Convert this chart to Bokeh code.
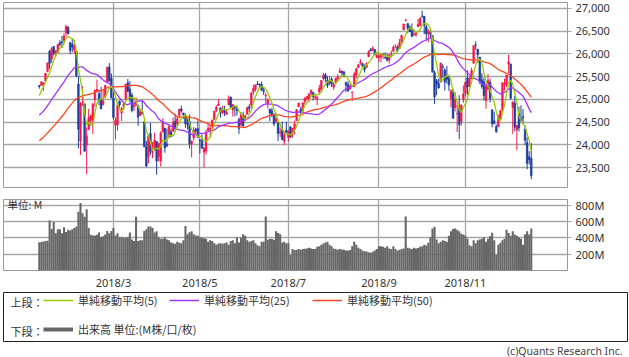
import pandas as pd
from bokeh.plotting import figure
from bokeh.layouts import column
from bokeh.models import (Range1d, FixedTicker, NumeralTickFormatter, Label, Title,
                          Legend, LegendItem, ColumnDataSource, Grid, LinearAxis)
from bokeh.embed import file_html
from bokeh.resources import INLINE

# ---------------- data (Jan 8 2018 .. Dec 19 2018, trading days) ----------------
trading_days_per_month = [17, 19, 21, 21, 22, 21, 21, 23, 19, 23, 21, 12]
month_names = ["2018/1", "2018/2", "2018/3", "2018/4", "2018/5", "2018/6",
               "2018/7", "2018/8", "2018/9", "2018/10", "2018/11", "2018/12"]
labelled_months = ["2018/3", "2018/5", "2018/7", "2018/9", "2018/11"]

opens = [25308, 25312, 25306, 25407, 25616, 26054, 25886, 26164, 26034, 26026,
         26248, 26264, 26298, 26466, 26584, 26250, 26213, 26084, 26061, 25338,
         24085, 24877, 24902, 23993, 24337, 24541, 24535, 25000, 25186, 25124,
         24990, 24890, 25048, 25364, 25714, 25462, 25024, 24430, 24441, 24965,
         24703, 24838, 24995, 25368, 25231, 25091, 24837, 24877, 24874, 24643,
         24721, 24508, 23957, 23745, 24249, 23832, 23908, 24076, 23741, 23648,
         24282, 24370, 24022, 24190, 24288, 24300, 24522, 24464, 24651, 24791,
         24703, 24637, 24465, 24508, 24023, 24153, 24346, 24358, 24117, 24097,
         23836, 23867, 24318, 24340, 24399, 24560, 24760, 24864, 24815, 24711,
         24750, 24673, 24880, 25049, 24764, 24836, 24794, 24558, 24434, 24639,
         24542, 24672, 24836, 24872, 25168, 25218, 25339, 25339, 25329, 25195,
         25076, 24911, 24789, 24749, 24648, 24504, 24496, 24269, 24330, 24080,
         24320, 24161, 24390, 24255, 24350, 24532, 24839, 24777, 24742, 24948,
         25011, 24989, 25129, 25157, 25045, 25013, 25163, 25225, 25460, 25539,
         25423, 25365, 25446, 25269, 25363, 25453, 25588, 25617, 25601, 25379,
         25321, 25235, 25156, 25277, 25537, 25701, 25800, 25788, 25720, 25708,
         25937, 26095, 26079, 26099, 25921, 25916, 25930, 25983, 25924, 25933,
         25864, 25995, 26061, 26153, 26148, 26121, 26262, 26528, 26742, 26668,
         26594, 26511, 26420, 26425, 26598, 26630, 26833, 26827, 26594, 26445,
         26476, 26402, 25589, 25409, 25351, 25380, 25720, 25642, 25490, 25494,
         25020, 25184, 24824, 24681, 24816, 24513, 25002, 25132, 25470, 25280,
         25452, 25796, 26200, 26105, 25931, 25432, 25388, 24970, 25226, 25379,
         24773, 24528, 24401, 24397, 24567, 24774, 25316, 25334, 25779, 25780,
         24820, 24918, 24329, 24685, 24579, 24620, 24345, 24053, 23741, 23701]

highs = [25311, 25401, 25369, 25574, 25804, 26086, 26153, 26165, 26072, 26215,
         26300, 26392, 26458, 26617, 26608, 26250, 26338, 26306, 26061, 25520,
         24946, 25294, 24903, 24382, 24797, 24668, 24924, 25212, 25433, 25214,
         25278, 25208, 25310, 25709, 25800, 25571, 25265, 24605, 24943, 24971,
         24831, 24930, 25336, 25449, 25402, 25146, 24977, 25042, 24874, 24771,
         24985, 24508, 24089, 24204, 24483, 24063, 24266, 24076, 24047, 24298,
         24584, 24370, 24355, 24428, 24360, 24600, 24688, 24614, 24786, 24858,
         24703, 24688, 24603, 24667, 24091, 24392, 24376, 24538, 24117, 24232,
         23952, 24333, 24478, 24441, 24555, 24751, 24871, 25013, 24815, 24854,
         24859, 24789, 25086, 25061, 24888, 24868, 24851, 24599, 24722, 24730,
         24671, 24842, 24892, 25146, 25326, 25329, 25402, 25348, 25390, 25270,
         25149, 25021, 24789, 24813, 24692, 24700, 24496, 24380, 24512, 24294,
         24510, 24312, 24418, 24374, 24532, 24779, 24920, 24836, 24929, 25050,
         25077, 25139, 25215, 25157, 25128, 25074, 25317, 25423, 25580, 25580,
         25507, 25510, 25486, 25371, 25475, 25551, 25692, 25634, 25627, 25379,
         25402, 25354, 25172, 25607, 25697, 25781, 25886, 25806, 25767, 25815,
         26079, 26131, 26168, 26099, 26002, 26028, 26014, 26014, 26029, 26002,
         25998, 26075, 26189, 26213, 26191, 26326, 26425, 26657, 26770, 26668,
         26625, 26667, 26543, 26477, 26768, 26812, 26951, 26827, 26639, 26547,
         26555, 26414, 25632, 25452, 25454, 25808, 25776, 25684, 25737, 25541,
         25218, 25236, 25160, 24878, 25091, 24893, 25306, 25381, 25636, 25497,
         25693, 26191, 26277, 26105, 25931, 25576, 25479, 25326, 25554, 25451,
         24773, 24730, 24448, 24665, 24770, 25372, 25453, 25538, 25980, 25780,
         24947, 25081, 24436, 24841, 24870, 24785, 24425, 24169, 23863, 24038]

lows = [25235, 25297, 25187, 25376, 25595, 25670, 25805, 25963, 25936, 26020,
        26163, 26129, 26230, 26381, 26435, 25995, 26040, 26001, 25490, 23924,
        23778, 24856, 23851, 23360, 24337, 24421, 24242, 24833, 25173, 24872,
        24776, 24865, 25021, 25364, 25394, 25029, 24553, 24117, 24313, 24809,
        24525, 24773, 24995, 25164, 24930, 24714, 24746, 24855, 24419, 24643,
        24672, 23949, 23509, 23590, 23778, 23710, 23867, 23344, 23634, 23523,
        24282, 23829, 23950, 24136, 24166, 24289, 24285, 24423, 24591, 24710,
        24568, 24373, 24340, 23916, 23723, 24098, 24207, 24163, 23809, 23924,
        23500, 23785, 24318, 24164, 24341, 24560, 24720, 24854, 24600, 24674,
        24632, 24655, 24876, 24812, 24622, 24626, 24644, 24242, 24434, 24390,
        24542, 24672, 24726, 24813, 25108, 25174, 25316, 25261, 25192, 25097,
        24911, 24798, 24520, 24609, 24414, 24504, 24083, 24176, 24100, 23997,
        24271, 24077, 24154, 24157, 24230, 24532, 24830, 24684, 24742, 24893,
        24976, 24940, 25082, 24977, 24987, 24872, 25105, 25165, 25417, 25379,
        25253, 25315, 25272, 25215, 25335, 25381, 25588, 25521, 25496, 25161,
        25167, 25212, 24965, 25277, 25465, 25687, 25762, 25698, 25591, 25697,
        25937, 26053, 26069, 25960, 25902, 25828, 25813, 25890, 25888, 25835,
        25790, 25921, 26049, 26126, 26036, 26108, 26240, 26528, 26711, 26456,
        26484, 26379, 26392, 26370, 26598, 26605, 26782, 26432, 26288, 26251,
        26357, 25598, 24899, 25094, 25241, 25380, 25474, 25195, 25348, 25186,
        24823, 24582, 24735, 24284, 24123, 24419, 24926, 25071, 25097, 25271,
        25450, 25781, 26090, 25803, 25340, 25235, 24972, 24797, 25198, 24933,
        24385, 24464, 24268, 24397, 24545, 24703, 25197, 25272, 25574, 24994,
        24242, 24300, 23881, 24292, 24506, 24465, 23998, 23464, 23568, 23245]

closes = [25283, 25385, 25369, 25574, 25803, 25792, 26115, 26017, 26071, 26214,
          26210, 26252, 26392, 26616, 26439, 26076, 26149, 26186, 25521, 24346,
          24912, 24893, 23860, 24191, 24601, 24640, 24893, 25200, 25219, 24964,
          24798, 24962, 25310, 25709, 25410, 25029, 24608, 24538, 24874, 24884,
          24801, 24895, 25336, 25178, 25007, 24759, 24873, 24946, 24610, 24727,
          24682, 23958, 23533, 24202, 23857, 23849, 24103, 23644, 24033, 24264,
          24505, 23933, 23979, 24408, 24189, 24484, 24360, 24573, 24787, 24748,
          24665, 24463, 24448, 24024, 24084, 24322, 24311, 24163, 24100, 23925,
          23930, 24263, 24358, 24361, 24543, 24740, 24831, 24900, 24707, 24769,
          24714, 24715, 25013, 24834, 24887, 24812, 24753, 24362, 24668, 24416,
          24635, 24814, 24799, 25146, 25241, 25317, 25322, 25320, 25201, 25175,
          25090, 24988, 24700, 24657, 24461, 24580, 24252, 24283, 24117, 24216,
          24271, 24307, 24174, 24356, 24456, 24776, 24920, 24700, 24924, 25019,
          25064, 25120, 25199, 25064, 25058, 25044, 25241, 25415, 25527, 25451,
          25307, 25415, 25333, 25326, 25463, 25502, 25629, 25583, 25509, 25313,
          25187, 25300, 25162, 25558, 25669, 25759, 25822, 25733, 25656, 25790,
          26049, 26064, 26124, 25986, 25964, 25952, 25974, 25995, 25916, 25857,
          25971, 25998, 26145, 26154, 26062, 26246, 26405, 26656, 26743, 26562,
          26492, 26385, 26439, 26458, 26651, 26774, 26828, 26627, 26447, 26486,
          26430, 25599, 25053, 25340, 25250, 25798, 25706, 25380, 25444, 25317,
          25191, 24583, 24984, 24689, 24443, 24874, 25116, 25381, 25270, 25462,
          25636, 26181, 26191, 25989, 25387, 25287, 25081, 25290, 25414, 25018,
          24466, 24465, 24286, 24640, 24749, 25367, 25339, 25538, 25827, 25027,
          24947, 24389, 24424, 24371, 24528, 24597, 24101, 23592, 23675, 23323]

# closes before the window, needed for the 5/25/50-day moving averages
prior_closes = [23400, 23434, 23348, 23377, 23435, 23516, 23539, 23548, 23557,
                23563, 23461, 23422, 23439, 23409, 23271, 23458, 23358, 23430, 23590,
                23526, 23558, 23580, 23836, 23940, 24272, 24231, 24290, 24180, 24140,
                24211, 24329, 24386, 24504, 24585, 24509, 24651, 24792, 24754, 24726,
                24782, 24754, 24746, 24774, 24838, 24719, 24824, 24922, 25075, 25295]

volumes = [347, 350, 355, 362, 365, 612, 510, 595, 455, 506,
           506, 455, 529, 472, 500, 490, 506, 520, 540, 720,
           826, 700, 660, 750, 520, 438, 430, 430, 438, 465,
           412, 420, 440, 483, 455, 483, 520, 430, 455, 405,
           412, 398, 405, 405, 465, 381, 362, 660, 362, 370,
           370, 483, 506, 540, 540, 520, 465, 480, 407, 389,
           389, 407, 380, 370, 342, 335, 327, 353, 340, 335,
           370, 545, 444, 470, 480, 444, 430, 425, 407, 400,
           395, 389, 353, 370, 360, 335, 316, 330, 335, 327,
           335, 342, 316, 360, 370, 335, 407, 342, 400, 444,
           425, 370, 353, 360, 370, 335, 310, 298, 353, 353,
           662, 378, 389, 385, 378, 480, 460, 444, 342, 353,
           335, 335, 189, 262, 251, 255, 262, 255, 262, 265,
           269, 280, 270, 262, 262, 290, 298, 316, 330, 342,
           353, 316, 298, 270, 262, 255, 262, 258, 255, 244,
           244, 250, 298, 353, 316, 280, 262, 244, 235, 233,
           225, 218, 230, 244, 262, 298, 298, 290, 280, 298,
           270, 262, 298, 262, 244, 255, 262, 269, 662, 280,
           270, 262, 280, 269, 275, 290, 298, 316, 305, 340,
           407, 516, 535, 380, 335, 353, 370, 360, 353, 425,
           480, 510, 516, 498, 480, 450, 440, 425, 389, 310,
           298, 370, 335, 370, 380, 389, 407, 353, 389, 420,
           462, 370, 189, 316, 340, 370, 389, 498, 460, 425,
           480, 440, 425, 407, 389, 316, 444, 480, 440, 516]

price_ticks = [23500, 24000, 24500, 25000, 25500, 26000, 26500, 27000]
volume_ticks = [200, 400, 600, 800]
volume_tick_labels = ["200M", "400M", "600M", "800M"]

# ---------------- derived ----------------
n = len(closes)
idx = list(range(n))
starts = [0]
for d in trading_days_per_month[:-1]:
    starts.append(starts[-1] + d)
month_ticks = [s for s, m in zip(starts, month_names) if m in labelled_months]
month_overrides = {s: m for s, m in zip(starts, month_names) if m in labelled_months}

all_c = pd.Series(prior_closes + closes, dtype=float)
ma5 = all_c.rolling(5).mean().iloc[len(prior_closes):].to_numpy()
ma25 = all_c.rolling(25).mean().iloc[len(prior_closes):].to_numpy()
ma50 = all_c.rolling(50).mean().iloc[len(prior_closes):].to_numpy()

UP, DOWN = "#f5184a", "#1d3e9e"
colors = [UP if c >= o else DOWN for o, c in zip(opens, closes)]
src = ColumnDataSource(dict(
    x=idx, o=opens, h=highs, l=lows, c=closes,
    top=[max(o, c) for o, c in zip(opens, closes)],
    bot=[min(o, c) for o, c in zip(opens, closes)],
    color=colors, vol=volumes, ma5=ma5, ma25=ma25, ma50=ma50))

FONT = "Noto Sans CJK JP"
NUMFONT = "Noto Sans"
GRID = "#a6a6a6"
FRAME = "#9a9a9a"
TXT = "#333333"

x_range = Range1d(-17.4, 256.6)


def style_axis(ax):
    ax.axis_line_color = None
    ax.major_tick_line_color = GRID
    ax.minor_tick_line_color = None
    ax.major_tick_in = 0
    ax.major_label_text_font = NUMFONT
    ax.major_label_text_font_size = "11px"
    ax.major_label_text_color = TXT


def base_fig(height, y_range, top, bottom):
    f = figure(width=629, height=height, x_range=x_range, y_range=y_range,
               output_backend="svg", toolbar_location=None,
               x_axis_location=None, y_axis_location=None,
               min_border_left=3, min_border_right=62,
               min_border_top=top, min_border_bottom=bottom)
    f.grid.visible = False
    f.outline_line_color = FRAME
    f.outline_line_width = 1
    f.background_fill_color = "white"
    f.border_fill_color = "white"
    return f


# ---------------- price panel ----------------
p = base_fig(192, Range1d(23063, 27130), 2, 5)
p.add_layout(Grid(dimension=0, ticker=FixedTicker(ticks=month_ticks),
                  grid_line_color=GRID, grid_line_width=1.3))
p.add_layout(Grid(dimension=1, ticker=FixedTicker(ticks=price_ticks),
                  grid_line_color=GRID, grid_line_width=1.3))
yax = LinearAxis(ticker=FixedTicker(ticks=price_ticks),
                 formatter=NumeralTickFormatter(format="0,0"),
                 major_tick_out=4, major_label_standoff=4)
style_axis(yax)
p.add_layout(yax, "right")

p.segment(x0="x", y0="l", x1="x", y1="h", source=src, color="color", line_width=1)
p.vbar(x="x", top="top", bottom="bot", width=0.8, source=src,
       fill_color="color", line_color="color", line_width=0.6)
p.line("x", "ma50", source=src, color="#ff4422", line_width=1.3)
p.line("x", "ma25", source=src, color="#a033ff", line_width=1.3)
p.line("x", "ma5", source=src, color="#99cc00", line_width=1.3)

# ---------------- volume panel ----------------
v = base_fig(100, Range1d(0, 870), 7, 14)
v.add_layout(Grid(dimension=0, ticker=FixedTicker(ticks=month_ticks),
                  grid_line_color=GRID, grid_line_width=1.3))
v.add_layout(Grid(dimension=1, ticker=FixedTicker(ticks=volume_ticks),
                  grid_line_color=GRID, grid_line_width=1.3))
vax = LinearAxis(ticker=FixedTicker(ticks=volume_ticks),
                 major_label_overrides=dict(zip(volume_ticks, volume_tick_labels)),
                 major_tick_out=4, major_label_standoff=4)
style_axis(vax)
v.add_layout(vax, "right")
xax = LinearAxis(ticker=FixedTicker(ticks=month_ticks),
                 major_label_overrides=month_overrides,
                 major_tick_out=0, major_label_standoff=4)
style_axis(xax)
v.add_layout(xax, "below")
v.vbar(x="x", top="vol", bottom=0, width=1.0, source=src,
       fill_color="#666666", line_color=None)
v.add_layout(Label(x=4, y=66, x_units="screen", y_units="screen", text="単位: M",
                   text_font=FONT, text_font_size="10.5px", text_color=TXT,
                   text_baseline="alphabetic"))

# ---------------- legend panel ----------------
lg = figure(frame_width=624, frame_height=49, x_range=Range1d(0, 1), y_range=Range1d(0, 1),
            output_backend="svg", toolbar_location=None,
            x_axis_location=None, y_axis_location=None,
            min_border_left=3, min_border_right=2, min_border_top=0, min_border_bottom=14)
lg.grid.visible = False
lg.outline_line_color = "#222222"
lg.outline_line_width = 1
# legend key renderers (their points lie outside the visible range)
r5 = lg.line([5, 6], [5, 6], color="#99cc00", line_width=1.5)
r25 = lg.line([5, 6], [5, 6], color="#a033ff", line_width=1.5)
r50 = lg.line([5, 6], [5, 6], color="#ff4422", line_width=1.5)
rv = lg.line([5, 6], [5, 6], color="#666666", line_width=4)

legend_rows = [("単純移動平均(5)", r5, 40, 33), ("単純移動平均(25)", r25, 166, 33),
               ("単純移動平均(50)", r50, 309, 33), ("出来高 単位:(M株/口/枚)", rv, 40, 4)]
for text, rend, lx, ly in legend_rows:
    lg.add_layout(Legend(items=[LegendItem(label=text, renderers=[rend], index=0)],
                         location=(lx, ly), orientation="horizontal",
                         glyph_width=30, glyph_height=14, label_standoff=5,
                         padding=0, margin=0, spacing=0,
                         border_line_color=None, background_fill_alpha=0,
                         label_text_font=FONT, label_text_font_size="11px",
                         label_text_color=TXT, label_height=14))
for text, ly in [("上段：", 40), ("下段：", 11)]:
    lg.add_layout(Label(x=7, y=ly, x_units="screen", y_units="screen", text=text,
                        text_font=FONT, text_font_size="11px", text_color=TXT,
                        text_baseline="middle"))
lg.add_layout(Title(text="(c)Quants Research Inc.", align="right", offset=5,
                    standoff=0, text_font=NUMFONT, text_font_size="10.5px",
                    text_font_style="normal", text_color="#444444"), "below")

layout = column(p, v, lg, spacing=0)
open("out.html", "w").write(file_html(layout, INLINE))
